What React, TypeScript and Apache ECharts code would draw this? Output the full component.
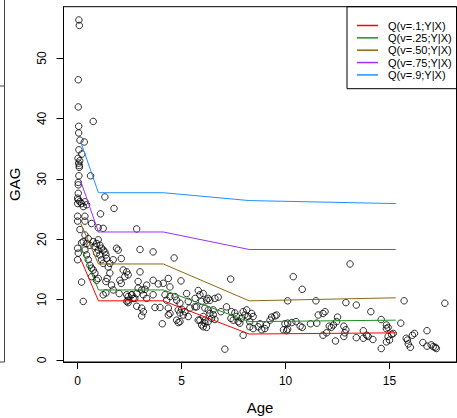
import React, { useEffect, useRef } from "react";
import * as echarts from "echarts";

const ages = [
  0.06, 0.08, 0.03, 0.03, 0.75, 0.05, 0.05, 0.11, 0.32, 0.06, 0.2, 0.02, 0.1, 0.05, 0.08, 0.08, 0.62, 0.06, 0.03, 0.03,
  0.03, 0.0, 0.03, 0.11, 0.19, 0.0, 0.35, 0.43, 0.27, 1.31, 1.75, 1.1, 0.0, 0.35, 0.0, 0.35, 0.67, 0.11, 0.99, 1.23,
  0.35, 0.27, 0.43, 0.19, 0.51, 0.59, 0.0, 0.03, 0.0, 0.19, 0.27,
  0.91, 1.07, 1.15, 1.23, 0.99, 0.91, 1.07, 1.31, 1.15, 1.39, 1.23, 0.83, 0.99, 0.75, 1.36, 0.59, 0.67, 0.75, 0.83, 0.67,
  0.91, 0.99, 0.51, 0.43, 0.35, 1.47, 1.55, 1.87, 1.95, 1.71, 2.1, 1.23, 1.36, 1.55, 1.42, 1.36, 1.63, 1.71, 2.03, 2.1,
  2.0, 2.19, 2.36, 2.27, 2.36, 2.43,
  2.84, 3.0, 3.63, 4.64, 2.43, 3.0, 2.91, 3.32, 3.63, 3.88, 4.12, 4.36, 4.44, 4.97, 2.91, 3.08, 3.24, 2.84, 2.6, 2.67,
  3.16, 3.32, 3.63, 4.2, 4.44, 4.28, 4.68, 4.76, 4.92, 5.24, 5.32, 2.43, 2.36, 2.84, 3.08, 3.16, 3.08, 3.72, 3.96, 4.36,
  4.44, 4.36, 4.84, 4.92, 5.0, 5.08, 5.16, 5.32, 5.4, 5.64, 4.07, 4.76, 4.84, 4.92, 5.8, 2.43, 2.6, 2.75,
  7.36, 5.8, 5.88, 5.65, 5.72, 5.96, 6.2, 6.36, 6.76, 6.89, 6.12, 6.28, 6.36, 6.04, 5.88, 6.12, 6.28, 6.44, 6.52, 6.6,
  5.96, 6.04, 6.2, 6.12, 6.04, 6.28, 6.6, 6.52, 7.37, 7.48, 7.56, 7.64, 7.72, 7.8, 7.88, 7.96, 8.04, 8.13, 8.2, 8.28,
  8.37, 8.44, 8.28, 8.44, 8.68, 8.85, 9.0, 9.08, 9.25, 9.33, 7.96, 7.08, 8.77, 7.16, 7.4,
  13.1, 10.37, 10.8, 10.1, 11.46, 12.9, 13.4, 9.49, 9.57, 9.97, 10.1, 10.3, 10.5, 10.7, 10.8, 11.2, 11.5, 11.57, 11.8, 11.9,
  12.1, 12.2, 12.3, 12.45, 12.5, 12.8, 12.9, 12.85, 9.9, 10.05, 10.1, 11.8, 11.97, 12.4, 12.8, 13.4,
  15.7, 17.66, 14.1, 14.6, 14.85, 14.93, 14.85, 15.54, 13.74, 13.9, 13.97, 13.74, 14.2, 14.93, 15.0, 14.85, 15.1, 15.18,
  15.8, 15.86, 16.1, 16.2, 16.8, 15.9, 16.0, 16.6, 16.8, 17.0, 17.1, 17.2, 17.25, 14.6,
];

const gag = [
  56.3, 55.4, 46.4, 41.9, 39.5, 38.7, 37.6, 36.4, 36.1, 34.8, 34.1, 33.4, 33.0, 32.6, 32.2, 31.9, 30.5, 30.5, 29.4, 29.0,
  27.6, 26.8, 26.5, 26.2, 25.9, 25.9, 26.2, 25.7, 25.4, 27.0, 25.1, 24.2, 23.8, 23.8, 23.0, 23.0, 22.6, 21.6, 21.9, 21.8,
  20.7, 19.6, 19.3, 19.4, 20.1, 19.0, 18.5, 17.7, 16.6, 12.9, 9.7,
  19.3, 19.0, 18.5, 18.2, 18.2, 17.7, 17.4, 17.9, 16.6, 16.8, 16.0, 18.8, 19.9, 19.6, 17.4, 15.7, 15.2, 14.9, 14.4, 13.8,
  13.2, 13.5, 16.6, 17.4, 18.2, 15.4, 16.0, 18.5, 18.2, 16.6, 16.8, 10.8, 11.1, 14.4, 13.5, 13.0, 12.4, 11.6, 13.2, 12.7,
  11.0, 14.9, 14.6, 13.8, 9.7, 9.5,
  21.7, 18.3, 17.9, 16.9, 14.1, 14.6, 13.0, 12.4, 13.2, 12.6, 12.7, 13.5, 12.1, 13.1, 11.9, 11.6, 11.7, 11.0, 10.8, 10.2,
  10.8, 10.2, 10.8, 10.8, 10.5, 9.9, 10.5, 9.9, 9.4, 11.0, 9.7, 9.9, 10.8, 8.9, 8.6, 8.0, 7.3, 8.7, 8.7, 8.6,
  7.7, 7.45, 8.3, 7.8, 8.4, 7.45, 8.0, 7.2, 8.6, 8.8, 6.0, 6.6, 6.2, 6.35, 6.6, 10.5, 10.8, 10.2,
  13.4, 11.5, 10.8, 10.2, 8.8, 9.7, 9.9, 9.9, 10.4, 8.0, 8.6, 8.3, 7.7, 7.2, 6.6, 6.6, 6.35, 6.9, 7.5, 6.7,
  5.8, 5.5, 5.4, 6.1, 11.0, 10.2, 10.2, 8.3, 6.9, 6.6, 7.8, 7.2, 6.35, 6.1, 6.9, 8.0, 7.45, 8.3, 7.2, 6.35,
  7.7, 7.2, 5.5, 5.2, 5.5, 5.0, 5.2, 5.8, 6.6, 7.1, 4.1, 1.8, 6.0, 8.8, 8.0,
  15.9, 13.8, 11.7, 9.8, 9.8, 9.5, 9.1, 7.3, 7.45, 6.0, 6.1, 6.2, 6.35, 5.6, 5.4, 6.0, 6.1, 7.45, 7.7, 8.0,
  5.6, 5.4, 5.8, 6.35, 7.1, 5.6, 5.0, 4.5, 5.0, 4.85, 5.1, 4.1, 4.5, 3.15, 3.9, 3.7,
  9.8, 9.4, 8.0, 6.7, 5.8, 5.4, 5.2, 6.1, 4.85, 4.1, 3.9, 3.6, 3.4, 3.9, 3.3, 3.0, 4.25, 4.4,
  3.6, 3.3, 4.1, 4.4, 4.85, 2.65, 2.1, 2.9, 2.3, 2.5, 2.2, 2.1, 1.9, 1.9,
];

const quantAges = [0.15, 1.0, 4.12, 8.25, 15.3];
const q10 = [16.7, 9.8, 9.8, 4.3, 4.5];
const q25 = [18.8, 11.6, 11.6, 6.35, 6.6];
const q50 = [22.6, 15.9, 15.9, 9.8, 10.3];
const q75 = [29.6, 21.2, 21.2, 18.3, 18.3];
const q90 = [36.1, 27.7, 27.7, 26.4, 25.9];

const legendNames = ["Q(v=.1;Y|X)", "Q(v=.25;Y|X)", "Q(v=.50;Y|X)", "Q(v=.75;Y|X)", "Q(v=.9;Y|X)"];
const lineColors = ["#FF0000", "#1E8F1E", "#8B6914", "#9B30FF", "#1E90FF"];
const xTicks = [0, 5, 10, 15];
const yTicks = [0, 10, 20, 30, 40, 50];

export default function App() {
  const ref = useRef<HTMLDivElement>(null);
  useEffect(() => {
    const chart = echarts.init(ref.current!, null, { renderer: "svg" });
    const font = '"Liberation Sans", Arial, sans-serif';
    const quantiles = [q10, q25, q50, q75, q90];
    const quantSeries = quantiles.map((q, i) => ({
      name: legendNames[i],
      type: "line",
      data: quantAges.map((a, j) => [a, q[j]]),
      symbol: "none",
      lineStyle: { color: lineColors[i], width: 1 },
      itemStyle: { color: lineColors[i] },
      silent: true,
    }));
    chart.setOption({
      animation: false,
      textStyle: { fontFamily: font },
      grid: {
        left: 63.5,
        top: 6.7,
        right: 0.5,
        bottom: 56,
        show: true,
        borderColor: "#000",
        borderWidth: 1,
        containLabel: false,
        outerBoundsMode: "none",
      },
      xAxis: {
        type: "value",
        min: -0.68,
        max: 18.22,
        name: "Age",
        nameLocation: "middle",
        nameGap: 38,
        nameTextStyle: { fontSize: 15, color: "#000", fontFamily: font },
        axisLine: { show: true, onZero: false, lineStyle: { color: "#000" } },
        axisTick: { show: true, length: 7, customValues: xTicks, lineStyle: { color: "#000" } },
        axisLabel: { customValues: xTicks, margin: 13, fontSize: 12, color: "#000", fontFamily: font },
        splitLine: { show: false },
      },
      yAxis: {
        type: "value",
        min: -0.33,
        max: 58.5,
        name: "GAG",
        nameLocation: "middle",
        nameGap: 42,
        nameRotate: 90,
        nameTextStyle: { fontSize: 15, color: "#000", fontFamily: font },
        axisLine: { show: true, onZero: false, lineStyle: { color: "#000" } },
        axisTick: { show: true, length: 7, customValues: yTicks, lineStyle: { color: "#000" } },
        axisLabel: { customValues: yTicks, rotate: 90, margin: 16, fontSize: 12, color: "#000", fontFamily: font },
        splitLine: { show: false },
      },
      legend: {
        data: legendNames,
        orient: "vertical",
        left: 357,
        top: 20,
        padding: 0,
        icon: "rect",
        itemWidth: 21,
        itemHeight: 1.5,
        itemGap: 1.35,
        selectedMode: false,
        textStyle: { fontSize: 11, color: "#000", fontFamily: font, padding: [0, 0, 0, 5] },
      },
      graphic: [
        {
          type: "rect",
          shape: { x: 347, y: 6.7, width: 109.5, height: 82 },
          style: { fill: "none", stroke: "#000", lineWidth: 1 },
          silent: true,
        },
        { type: "line", shape: { x1: 4.5, y1: 0, x2: 4.5, y2: 362 }, style: { stroke: "#444", lineWidth: 1 }, silent: true },
        { type: "line", shape: { x1: 0, y1: 86, x2: 4.5, y2: 86 }, style: { stroke: "#444", lineWidth: 1 }, silent: true },
        { type: "line", shape: { x1: 0, y1: 362, x2: 4.5, y2: 362 }, style: { stroke: "#444", lineWidth: 1 }, silent: true },
      ],
      series: [
        {
          type: "scatter",
          data: ages.map((a, i) => [a, gag[i]]),
          symbol: "circle",
          symbolSize: 6.5,
          itemStyle: { color: "rgba(0,0,0,0)", borderColor: "#000", borderWidth: 1 },
          silent: true,
        },
        ...quantSeries,
      ],
    });
    return () => chart.dispose();
  }, []);
  return <div ref={ref} style={{ position: "absolute", left: 0, top: 0, width: 457, height: 418 }} />;
}
